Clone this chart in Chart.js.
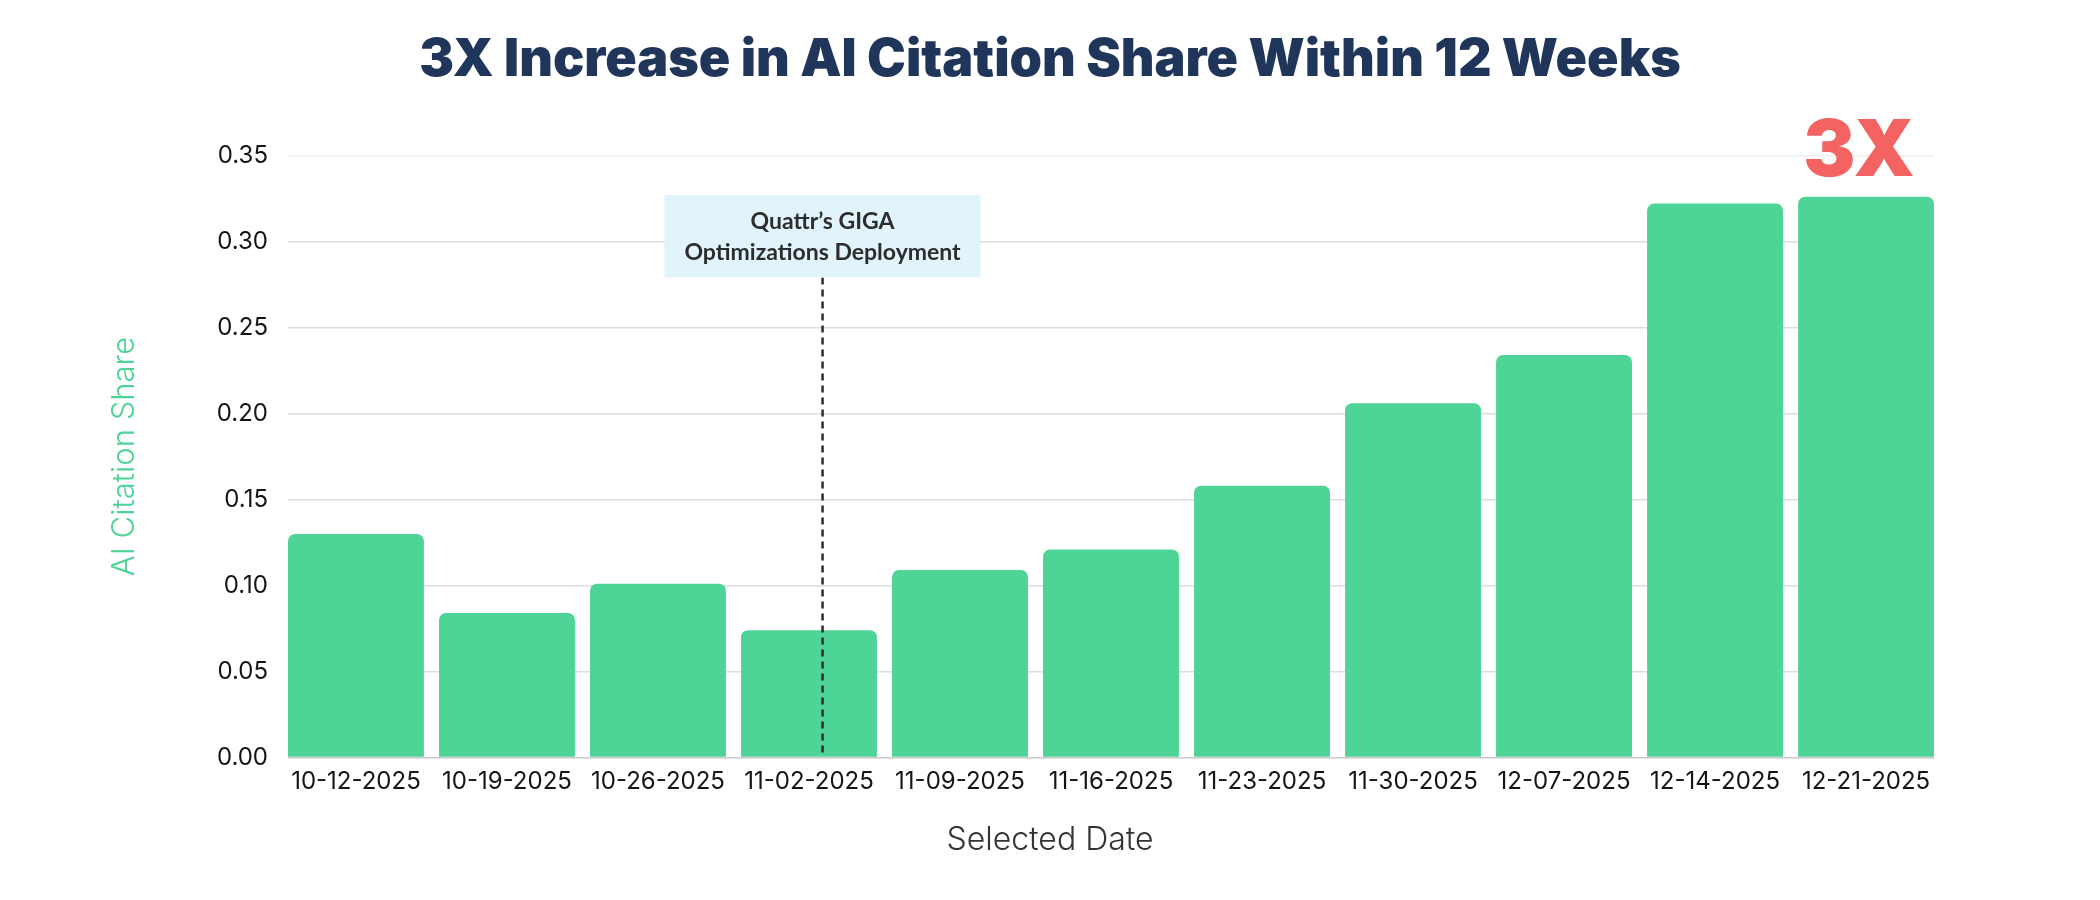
<!DOCTYPE html>
<html>
<head>
<meta charset="utf-8">
<script src="https://cdn.jsdelivr.net/npm/chart.js@4"></script>
<style>
  html, body { margin: 0; padding: 0; background: #fff; }
  #wrap { width: 2100px; height: 900px; }
</style>
</head>
<body>
<div id="wrap"><canvas id="chart"></canvas></div>
<script>
const dates = ['10-12-2025', '10-19-2025', '10-26-2025', '11-02-2025', '11-09-2025', '11-16-2025',
  '11-23-2025', '11-30-2025', '12-07-2025', '12-14-2025', '12-21-2025']
const citationShare = [0.130, 0.084, 0.101, 0.074, 0.109, 0.121, 0.158, 0.206, 0.234, 0.322, 0.326]
const deployLabel = ['Quattr\u2019s GIGA', 'Optimizations Deployment']
const peakLabel = '3X'

// where the deployment note sits (category index, value range of the box)
const deployAt = 3.09
const deployBoxTop = 0.327
const deployBoxBottom = 0.279

const notesPlugin = {
  id: 'notes',
  afterDatasetsDraw(chart) {
    const { ctx, scales: { x, y } } = chart
    const lx = x.getPixelForValue(deployAt)
    const top = y.getPixelForValue(deployBoxTop)
    const bottom = y.getPixelForValue(deployBoxBottom)

    ctx.save()
    // dashed marker line
    ctx.strokeStyle = '#2e2e2e'
    ctx.lineWidth = 2.5
    ctx.setLineDash([7, 5])
    ctx.beginPath()
    ctx.moveTo(lx, bottom)
    ctx.lineTo(lx, y.getPixelForValue(0))
    ctx.stroke()
    ctx.setLineDash([])

    // note box
    ctx.font = 'bold 23px Lato'
    const w = Math.max(...deployLabel.map(t => ctx.measureText(t).width)) + 40
    ctx.fillStyle = '#e1f4fc'
    ctx.fillRect(lx - w / 2, top, w, bottom - top)
    ctx.fillStyle = '#2d2d2d'
    ctx.textAlign = 'center'
    ctx.textBaseline = 'middle'
    const mid = (top + bottom) / 2
    ctx.fillText(deployLabel[0], lx, mid - 15)
    ctx.fillText(deployLabel[1], lx, mid + 16)

    // 3X over the last bar
    const bars = chart.getDatasetMeta(0).data
    const last = bars[bars.length - 1]
    ctx.font = '900 78px Inter'
    ctx.fillStyle = '#f26361'
    ctx.textBaseline = 'alphabetic'
    ctx.fillText(peakLabel, last.x - 7, last.y - 21)
    ctx.restore()
  }
}

new Chart(document.getElementById('chart'), {
  type: 'bar',
  data: {
    labels: dates,
    datasets: [{
      data: citationShare,
      backgroundColor: '#4fd497',
      borderRadius: { topLeft: 7, topRight: 7 },
      borderSkipped: 'bottom',
      barPercentage: 0.9,
      categoryPercentage: 1.0
    }]
  },
  options: {
    responsive: true,
    maintainAspectRatio: false,
    animation: false,
    layout: { padding: 0 },
    plugins: {
      legend: { display: false },
      tooltip: { enabled: false },
      title: {
        display: true,
        text: '3X Increase in AI Citation Share Within 12 Weeks',
        color: '#1f3559',
        font: { family: 'Inter', size: 52, weight: '900', lineHeight: 1.2 },
        padding: { top: 29, bottom: 64 }
      },
      subtitle: {
        display: true,
        position: 'bottom',
        text: 'Selected Date',
        color: '#333',
        font: { family: 'Inter', size: 32, weight: '300', lineHeight: 1.2 },
        padding: { top: 0, bottom: 40 }
      }
    },
    scales: {
      x: {
        grid: { display: false },
        border: { display: false },
        ticks: {
          color: '#151515',
          font: { family: 'Inter', size: 24 },
          padding: 2,
          maxRotation: 0,
          autoSkip: false
        },
        // bars sit flush with the plot edges, as in the source chart
        afterBuildTicks(s) {
          s._startValue = -0.45
          s._valueRange = dates.length - 0.1
        },
        afterFit(s) { s.height = 64 }
      },
      y: {
        min: 0,
        max: 0.35,
        border: { display: false },
        grid: {
          drawTicks: false,
          lineWidth: 1.5,
          color: c => c.tick.value === 0 ? '#c9c9c9' : (c.tick.value > 0.34 ? '#efefef' : '#dedede')
        },
        ticks: {
          stepSize: 0.05,
          color: '#151515',
          font: { family: 'Inter', size: 24 },
          padding: 20,
          callback: v => v.toFixed(2)
        },
        title: {
          display: true,
          text: 'AI Citation Share',
          color: '#4fd497',
          font: { family: 'Inter', size: 31, weight: '300' },
          padding: { top: 106, bottom: 0 }
        },
        afterFit(s) { s.width = 288 }
      },
      right: {
        position: 'right',
        display: true,
        grid: { display: false },
        border: { display: false },
        ticks: { display: false },
        afterFit(s) { s.width = 166 }
      }
    }
  },
  plugins: [notesPlugin]
})
</script>
</body>
</html>
